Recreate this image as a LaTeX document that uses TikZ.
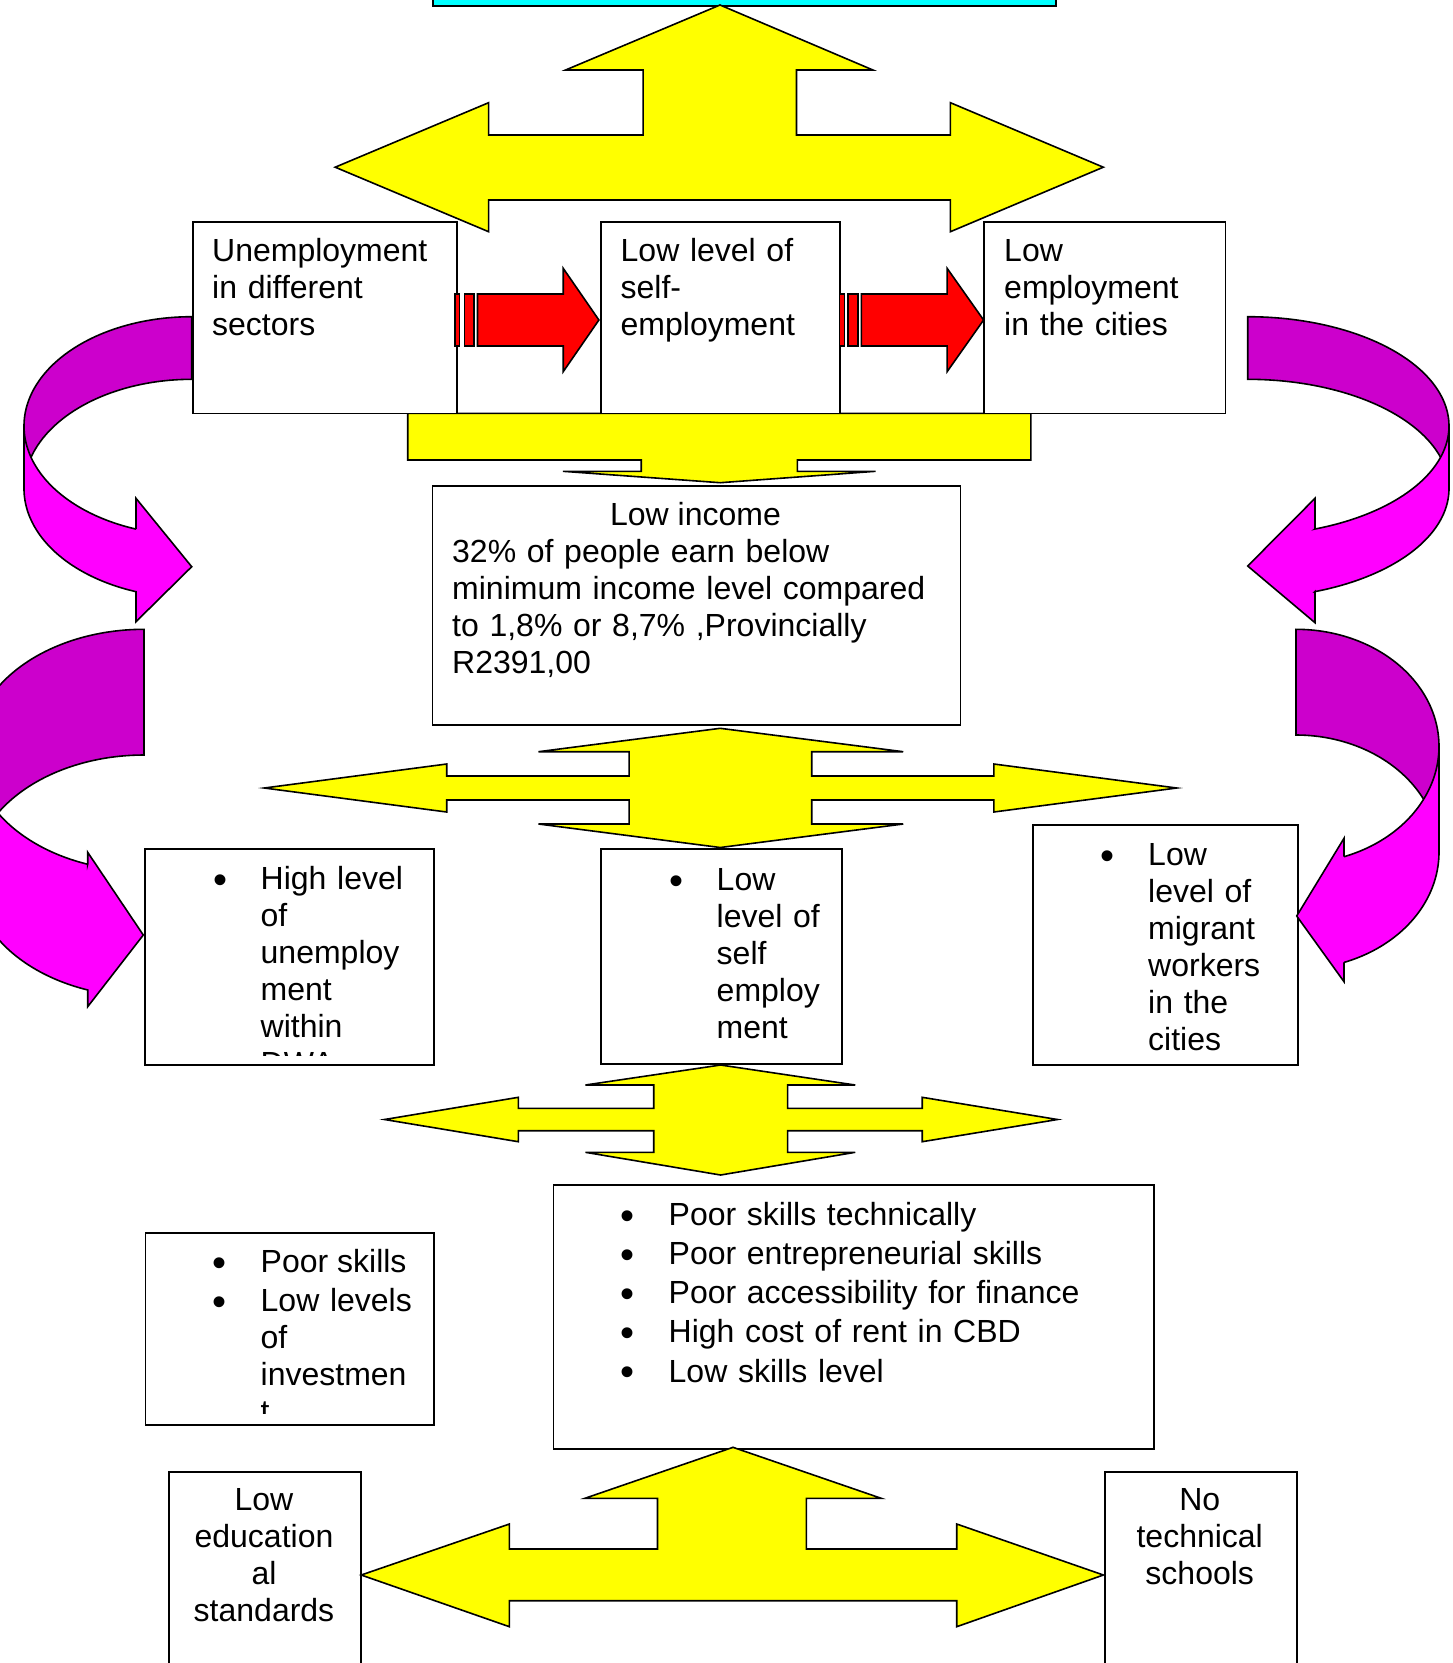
\documentclass[tikz,border=0pt]{standalone}
\usepackage{fontspec}
\setmainfont{Liberation Sans}
\newcommand\myfont{\fontsize{32}{37}\selectfont}
\newcommand\myfontb{\fontsize{32}{39.2}\selectfont}
\newcommand\mybullet{\raisebox{-4pt}{\fontsize{40}{40}\selectfont\textbullet}}
\definecolor{dmag}{RGB}{204,0,204}
\definecolor{lmag}{RGB}{255,0,255}
\definecolor{yelc}{RGB}{255,255,0}
\definecolor{redc}{RGB}{255,0,0}
\definecolor{cync}{RGB}{0,255,255}
\begin{document}
\begin{tikzpicture}[x=1pt,y=-1pt,
 box/.style={draw=black, fill=white, line width=1.8pt, inner sep=0pt, anchor=north west},
 shp/.style={draw=black, line width=1.6pt, line join=miter},
 yel/.style={shp, fill=yelc},
 redar/.style={shp, fill=redc},
 dm/.style={shp, fill=dmag},
 lm/.style={shp, fill=lmag},
 txt/.style={inner sep=0pt, anchor=north west, align=left, text width=560pt, font=\myfont},
 ctr/.style={inner sep=0pt, anchor=north, align=center, text width=200pt, font=\myfont},
 one/.style={inner sep=0pt, font=\myfont},
 bul/.style={inner sep=0pt, anchor=base, font=\myfont},
]
\useasboundingbox (0,0) rectangle (1453,1663);
\clip (0,0) rectangle (1453,1663);

% cyan box at top
\node[box, fill=cync, minimum width=623pt, minimum height=15pt] (cyanbox) at (432,-10) {};

% top yellow left-right-up arrow
\filldraw[yel] (720,5) -- (872.9,70) -- (796.5,70) -- (796.5,135) -- (950.4,135) -- (950.4,102.7)
  -- (1103.3,167.2) -- (950.4,231.7) -- (950.4,200) -- (488.6,200) -- (488.6,231.7)
  -- (335.2,167.2) -- (488.6,102.7) -- (488.6,135) -- (643.1,135) -- (643.1,70) -- (565.6,70) -- cycle;

% yellow bar with down arrow below top boxes
\filldraw[yel] (407.7,413.3) -- (1030.9,413.3) -- (1030.9,460) -- (797.4,460) -- (797.4,471.3)
  -- (875.5,471.3) -- (720.2,482.7) -- (563,471.3) -- (641.2,471.3) -- (641.2,460) -- (407.7,460) -- cycle;

% boxes
\node[box, minimum width=264.2pt, minimum height=191.9pt] (b1) at (191.7,220.7) {};
\node[box, minimum width=239.3pt, minimum height=191.9pt] (b2) at (599.9,220.7) {};
\node[box, minimum width=241.4pt, minimum height=191.9pt] (b3) at (983.2,220.7) {};
\node[box, minimum width=528.1pt, minimum height=239.2pt] (inc) at (431.5,485) {};
\node[box, minimum width=288.7pt, minimum height=215.5pt] (m1) at (144,848.4) {};
\node[box, minimum width=240.7pt, minimum height=214.4pt] (m2) at (600,848.3) {};
\node[box, minimum width=264.4pt, minimum height=240pt] (m3) at (1032.3,824) {};
\node[box, minimum width=600.1pt, minimum height=264pt] (big) at (552.6,1184) {};
\node[box, minimum width=288.2pt, minimum height=191.3pt] (ps) at (144.5,1232.4) {};
\node[box, minimum width=192pt, minimum height=230pt] (edu) at (168,1471) {};
\node[box, minimum width=192pt, minimum height=230pt] (tech) at (1103.7,1471) {};

% red striped arrows
\filldraw[redar] (455,294) rectangle (459.6,346);
\filldraw[redar] (464.3,294) rectangle (473.9,346);
\filldraw[redar] (477.5,294) -- (563.2,294) -- (563.2,268.3) -- (598.9,320) -- (563.2,371.7) -- (563.2,346) -- (477.5,346) -- cycle;
\filldraw[redar] (839.3,294) rectangle (844.3,346);
\filldraw[redar] (848.2,294) rectangle (857.9,346);
\filldraw[redar] (861.4,294) -- (947.1,294) -- (947.1,268.3) -- (983.6,320) -- (947.1,371.7) -- (947.1,346) -- (861.4,346) -- cycle;

% magenta curved arrow, upper left
\filldraw[dm] plot[domain=270:180, samples=60] ({191.7+167.7*cos(\x)},{426+109.3*sin(\x)}) -- (24,426)
  -- plot[domain=180:270, samples=60] ({191.7+167.7*cos(\x)},{488.6+109.3*sin(\x)}) -- (191.7,379.3) -- cycle;
\filldraw[lm] plot[domain=180:109.4, samples=60] ({191.7+167.7*cos(\x)},{488.6+109.3*sin(\x)}) -- (136,591.7)
  -- (136,621.7) -- (191.7,566.7) -- (136,498.3) -- (136,529.1)
  -- plot[domain=109.4:180, samples=60] ({191.7+167.7*cos(\x)},{426+109.3*sin(\x)}) -- (24,426) -- cycle;

% magenta curved arrow, upper right
\filldraw[dm] plot[domain=-90:0, samples=60] ({1247.7+201.3*cos(\x)},{426+109.3*sin(\x)}) -- (1449,426)
  -- plot[domain=0:-90, samples=60] ({1247.7+201.3*cos(\x)},{488.6+109.3*sin(\x)}) -- (1247.7,379.3) -- cycle;
\filldraw[lm] plot[domain=0:70.47, samples=60] ({1247.7+201.3*cos(\x)},{488.6+109.3*sin(\x)}) -- (1315,591.6)
  -- (1315,622.7) -- (1247.7,566) -- (1315,498.3) -- (1315,529)
  -- plot[domain=70.47:0, samples=60] ({1247.7+201.3*cos(\x)},{426+109.3*sin(\x)}) -- (1449,426) -- cycle;

% magenta curved arrow, lower left
\filldraw[dm] plot[domain=270:180, samples=60] ({144+171*cos(\x)},{750.15+120.85*sin(\x)}) -- (-27,750.15)
  -- plot[domain=180:270, samples=60] ({144+171*cos(\x)},{875.85+120.85*sin(\x)}) -- (144,755) -- cycle;
\filldraw[lm] plot[domain=180:109.22, samples=60] ({144+171*cos(\x)},{875.85+120.85*sin(\x)}) -- (87.7,990)
  -- (87.7,1006.7) -- (143.3,935) -- (87.7,852.3) -- (87.7,864.3)
  -- plot[domain=109.22:180, samples=60] ({144+171*cos(\x)},{750.15+120.85*sin(\x)}) -- (-27,750.15) -- cycle;

% magenta curved arrow, lower right
\filldraw[dm] plot[domain=-90:0, samples=60] ({1296+143*cos(\x)},{746.4+117.1*sin(\x)}) -- (1439,746.4)
  -- plot[domain=0:-90, samples=60] ({1296+143*cos(\x)},{852.1+117.1*sin(\x)}) -- (1296,735) -- cycle;
\filldraw[lm] plot[domain=0:70.39, samples=60] ({1296+143*cos(\x)},{852.1+117.1*sin(\x)}) -- (1344,962.4)
  -- (1344,981.7) -- (1296.7,916) -- (1344,838.3) -- (1344,856.7)
  -- plot[domain=70.39:0, samples=60] ({1296+143*cos(\x)},{746.4+117.1*sin(\x)}) -- (1439,746.4) -- cycle;

% yellow four-way arrow below income box
\filldraw[yel] (720.2,728.3) -- (903.2,751.7) -- (811.7,751.7) -- (811.7,776) -- (993.8,776) -- (993.8,764)
  -- (1176.7,788) -- (993.8,812) -- (993.8,800) -- (811.7,800) -- (811.7,824) -- (903.2,824)
  -- (720.2,847.5) -- (538.5,824) -- (629.1,824) -- (629.1,800) -- (446.7,800) -- (446.7,812)
  -- (264.3,788) -- (446.7,764) -- (446.7,776) -- (629.1,776) -- (629.1,751.7) -- (538.5,751.7) -- cycle;

% yellow four-way arrow below middle row
\filldraw[yel] (720.6,1065) -- (855.2,1085) -- (787.6,1085) -- (787.6,1108.3) -- (922.2,1108.3) -- (922.2,1097.3)
  -- (1057.5,1119.5) -- (922.2,1141.7) -- (922.2,1130.7) -- (787.6,1130.7) -- (787.6,1152.3) -- (855.2,1152.3)
  -- (720.6,1175) -- (585.4,1152.3) -- (653.7,1152.3) -- (653.7,1130.7) -- (518.4,1130.7) -- (518.4,1141.7)
  -- (384.5,1119.5) -- (518.4,1097.3) -- (518.4,1108.3) -- (653.7,1108.3) -- (653.7,1085) -- (585.4,1085) -- cycle;

% bottom yellow left-right-up arrow
\filldraw[yel] (733,1447.3) -- (881.2,1498.3) -- (806.4,1498.3) -- (806.4,1549) -- (956.7,1549) -- (956.7,1524)
  -- (1103.4,1575) -- (956.7,1626.7) -- (956.7,1600.7) -- (509.4,1600.7) -- (509.4,1626.7)
  -- (361.2,1575) -- (509.4,1524) -- (509.4,1549) -- (657.5,1549) -- (657.5,1498.3) -- (584.9,1498.3) -- cycle;

% texts in top boxes
\node[txt] (t1) at (212,235.8) {\strut Unemployment\\in different\\sectors};
\node[txt] (t2) at (620.5,235.8) {\strut Low level of\\self-\\employment};
\node[txt] (t3) at (1004,235.8) {\strut Low\\employment\\in the cities};

% income box text
\node[one, anchor=base] (ti0) at (695.5,525) {Low income};
\node[txt] (ti1) at (452,536.1) {\strut 32\% of people earn below\\minimum income level compared\\to 1,8\% or 8,7\% ,Provincially\\R2391,00};

% middle row texts
\begin{scope}
\clip (144,848.4) rectangle (432.7,1055.5);
\node[bul] (m1b) at (220,889.3) {\mybullet};
\node[txt] (m1t) at (260.5,863.4) {\strut High level\\of\\unemploy\\ment\\within\\DWA};
\end{scope}
\node[bul] (m2b) at (676,890) {\mybullet};
\node[txt] (m2t) at (716.5,864.1) {\strut Low\\level of\\self\\employ\\ment};
\node[bul] (m3b) at (1107.7,865.7) {\mybullet};
\node[txt] (m3t) at (1148,839.8) {\strut Low\\level of\\migrant\\workers\\in the\\cities};

% big list box
\foreach \k in {0,...,4} {
  \node[bul] (bb\k) at (627.5,1225+39.2*\k) {\mybullet};
}
\node[txt, font=\myfontb] (bigt) at (668.5,1197.56) {\strut Poor skills technically\\Poor entrepreneurial skills\\Poor accessibility for finance\\High cost of rent in CBD\\Low skills level};

% poor skills box
\node[bul] (psb1) at (219,1272.7) {\mybullet};
\node[bul] (psb2) at (219,1311.7) {\mybullet};
\node[one, anchor=base west] (pst1) at (260.5,1272.7) {Poor skills};
\begin{scope}
\clip (144.5,1232.4) rectangle (432.7,1413);
\node[txt] (pst2) at (260.5,1285.8) {\strut Low levels\\of\\investmen\\t};
\end{scope}

% bottom boxes
\node[ctr] (edut) at (264,1484.1) {\strut Low\\education\\al\\standards};
\node[ctr] (techt) at (1199.7,1484.1) {\strut No\\technical\\schools};
\end{tikzpicture}
\end{document}
